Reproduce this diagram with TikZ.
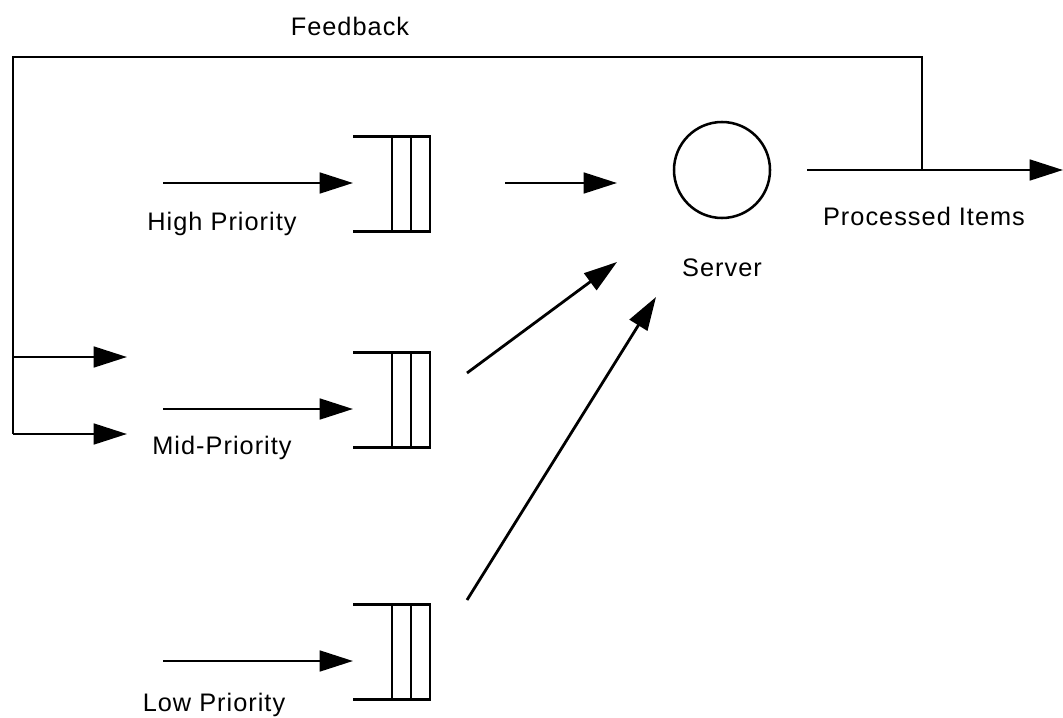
\documentclass[tikz,border=0pt]{standalone}
\usepackage{fontspec}
\setmainfont{Liberation Sans}[LetterSpace=4]
\usetikzlibrary{arrows.meta,calc}
\begin{document}
\begin{tikzpicture}[x=0.75pt,y=-0.75pt,
  line width=2.1pt,
  arr/.style={-{Triangle[length=25pt,width=15.5pt]}},
  lbl/.style={font=\fontsize{19}{21}\selectfont, inner sep=0pt},
  queue/.style={minimum width=57.75pt, minimum height=71.25pt, inner sep=0pt, outer sep=0pt},
  qline/.style={line width=2.1pt}
]
\useasboundingbox (0,0) rectangle (1063,717);
% queues
\node[queue] (q1) at (391.5,184) {};
\node[queue] (q2) at (391.5,400) {};
\node[queue] (q3) at (391.5,652) {};
\foreach \q in {q1,q2,q3}{
  \draw[qline] (\q.north west) -- (\q.north east) -- (\q.south east) -- (\q.south west);
  \draw[qline] ($(\q.north west)!0.506!(\q.north east)$) -- ($(\q.south west)!0.506!(\q.south east)$);
  \draw[qline] ($(\q.north west)!0.753!(\q.north east)$) -- ($(\q.south west)!0.753!(\q.south east)$);
}
% server
\node[draw, circle, minimum size=72pt, inner sep=0pt, line width=1.9pt] (srv) at (722,170) {};
% labels
\node[lbl] (lfb) at (350,26) {Feedback};
\node[lbl] (lpi) at (924,216) {Processed Items};
\node[lbl] (lsv) at (722,268) {Server};
\node[lbl] (lhp) at (222,224) {High Priority};
\node[lbl] (lmp) at (222,448) {Mid-Priority};
\node[lbl] (llp) at (214,705) {Low Priority};
% coordinates
\coordinate (h0) at (163,183);
\coordinate (m0) at (163,409);
\coordinate (l0) at (163,661);
\coordinate (ho1) at (505,183);
\coordinate (ho2) at (617,183);
\coordinate (mo1) at (467,373);
\coordinate (mo2) at (617,262);
\coordinate (lo1) at (467,600);
\coordinate (lo2) at (656,297);
\coordinate (out1) at (807,170);
\coordinate (out2) at (1063,170);
\coordinate (j) at (922,170);
\coordinate (ftl) at (13,57);
\coordinate (fb1) at (13,357);
\coordinate (fb2) at (13,434);
\coordinate (fa1) at (127,357);
\coordinate (fa2) at (127,434);
% input arrows
\draw[arr] (h0) -- (q1.west |- h0);
\draw[arr] (m0) -- (q2.west |- m0);
\draw[arr] (l0) -- (q3.west |- l0);
% to server
\draw[arr] (ho1) -- (ho2);
\draw[arr] (mo1) -- (mo2);
\draw[arr] (lo1) -- (lo2);
% output
\draw[arr] (out1) -- (out2);
% feedback
\draw[line join=miter] (j) |- (ftl) -- (fb2);
\draw[arr] (fb1) -- (fa1);
\draw[arr] (fb2) -- (fa2);
\end{tikzpicture}
\end{document}
